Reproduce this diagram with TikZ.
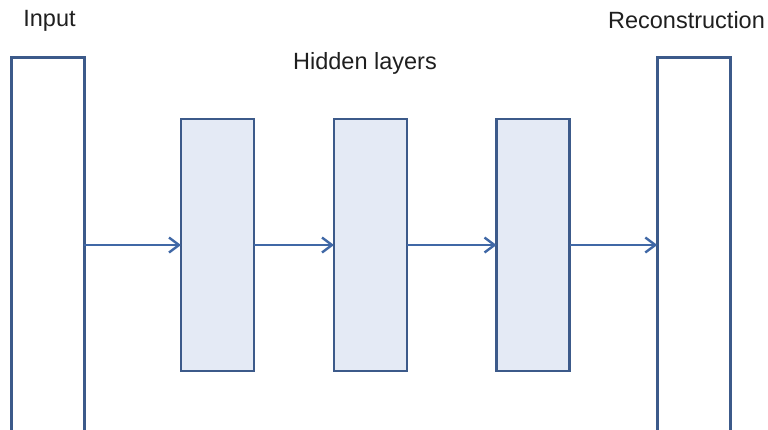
\documentclass[tikz,border=0pt]{standalone}
\usepackage{fontspec}
\setmainfont{Liberation Sans}
\usetikzlibrary{arrows.meta}
\definecolor{edgeblue}{HTML}{3C5A8A}
\definecolor{arrowblue}{HTML}{4068A6}
\definecolor{fillblue}{HTML}{E4EAF5}
\begin{document}
\begin{tikzpicture}[x=1pt,y=-1pt,
  layer/.style={draw=edgeblue,line width=2.6pt,anchor=north west,inner sep=0pt,outer sep=0pt},
  tall/.style={layer,fill=white,minimum width=73pt,minimum height=430pt},
  hid/.style={layer,fill=fillblue,minimum width=73pt,minimum height=252pt},
  lbl/.style={font=\fontsize{23.5}{28}\selectfont,text=black!88},
  arr/.style={draw=arrowblue,line width=2.4pt,-{Straight Barb[length=10pt,width=15pt,line width=2.4pt]}}]
\useasboundingbox (0,0) rectangle (768,429);
\clip (0,0) rectangle (768,429);
\node[tall] (in) at (11.3,57.3) {};
\node[tall] (out) at (657.3,57.3) {};
\node[hid] (h1) at (181,119) {};
\node[hid] (h2) at (334,119) {};
\node[hid] (h3) at (496.5,119) {};
\node[lbl] (tin) at (49.5,20.5) {Input};
\node[lbl] (tout) at (686.5,20.5) {Reconstruction};
\node[lbl] (thid) at (365,63) {Hidden layers};
\draw[arr] (in.east |- h1.west) -- (h1.west);
\draw[arr] (h1.east) -- (h2.west);
\draw[arr] (h2.east) -- (h3.west);
\draw[arr] (h3.east) -- (out.west |- h3.east);
\end{tikzpicture}
\end{document}
